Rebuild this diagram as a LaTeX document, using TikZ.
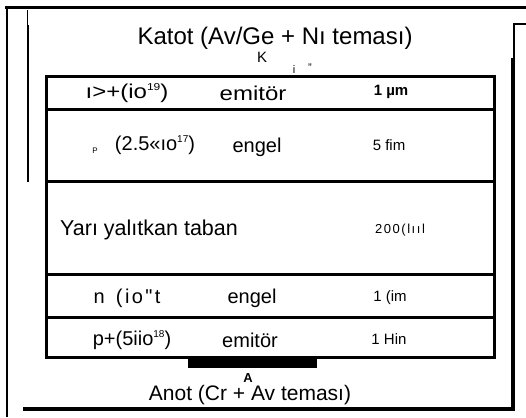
\documentclass[tikz,border=0pt]{standalone}
\usepackage{fontspec}
\setmainfont{Liberation Sans}
\newfontfamily\widefont[FakeStretch=1.2]{Liberation Sans}
\newfontfamily\spacedfont[LetterSpace=12]{Liberation Sans}
\newcommand{\upidx}[1]{\raisebox{0.75ex}{\fontsize{10}{11}\selectfont #1}}
\begin{document}
\begin{tikzpicture}[x=1pt,y=-1pt,
  frame/.style={line width=3pt},
  layer/.style={line width=3pt},
  rowtxt/.style={font=\fontsize{20}{22}\selectfont, inner sep=0pt, anchor=center},
  thick/.style={font=\fontsize{15}{17}\selectfont, inner sep=0pt, anchor=center}]
\useasboundingbox (0,0) rectangle (526,417);
\fill[white] (0,0) rectangle (526,417);
% outer frame
\draw[frame] (5,8) -- (526,8);
\draw[line width=2.5pt] (7,9) -- (7,417);
\draw[line width=1pt] (27,10) -- (27,26);
\draw[line width=2.5pt] (28,25) -- (28,182);
\draw[line width=1.5pt] (526,24) -- (514,24) -- (514,60);
\draw[line width=4pt] (513,58) -- (513,410);
\draw[line width=4pt] (23,409) -- (515,409);
% layer stack
\draw[layer] (46,77) rectangle (494,357);
\draw[layer] (46,109) -- (494,109);
\draw[layer] (46,181) -- (494,181);
\draw[layer] (46,274) -- (494,274);
\draw[layer] (46,317) -- (494,317);
\fill (188,357) rectangle (317,368);
% labels
\node[font=\fontsize{24}{26}\selectfont, inner sep=0pt] (katot) at (275,38) {Katot (Av/Ge + Nı teması)};
\node[font=\fontsize{15}{17}\selectfont, inner sep=0pt] (k) at (262,57) {K};
\node[font=\fontsize{11}{12}\selectfont, inner sep=0pt] (i) at (294,70) {i};
\node[font=\fontsize{11}{12}\selectfont, inner sep=0pt] (q) at (310,68) {"};
% row 1
\node[rowtxt, font=\widefont\fontsize{20}{22}\selectfont] (r1a) at (127,93) {ı>+(io\upidx{19})};
\node[rowtxt, font=\widefont\fontsize{20}{22}\selectfont] (r1b) at (253,93) {emitör};
\node[thick, font=\bfseries\fontsize{15}{17}\selectfont] (r1c) at (391,92) {1 µm};
% row 2
\node[font=\fontsize{8}{9}\selectfont, inner sep=0pt] (r2p) at (95,151) {P};
\node[rowtxt] (r2a) at (155,145) {(2.5«ıo\upidx{17})};
\node[rowtxt] (r2b) at (257,147) {engel};
\node[thick] (r2c) at (389,145) {5 fim};
% row 3
\node[rowtxt, font=\fontsize{21.5}{23}\selectfont] (r3a) at (149,230) {Yarı yalıtkan taban};
\node[thick, font=\spacedfont\fontsize{13}{15}\selectfont] (r3c) at (400,230) {200(lııl};
% row 4
\node[rowtxt, font=\spacedfont\fontsize{20}{22}\selectfont] (r4a) at (127,298) {n\ \,(io"t};
\node[rowtxt] (r4b) at (252,298) {engel};
\node[thick] (r4c) at (390,298) {1 (im};
% row 5
\node[rowtxt] (r5a) at (132,340) {p+(5iio\upidx{18})};
\node[rowtxt] (r5b) at (250,340) {emitör};
\node[thick] (r5c) at (389,339) {1 Hin};
% anode
\node[font=\bfseries\fontsize{13}{15}\selectfont, inner sep=0pt] (a) at (248,378) {A};
\node[font=\fontsize{21}{23}\selectfont, inner sep=0pt] (anot) at (250,395) {Anot (Cr + Av teması)};
\end{tikzpicture}
\end{document}
